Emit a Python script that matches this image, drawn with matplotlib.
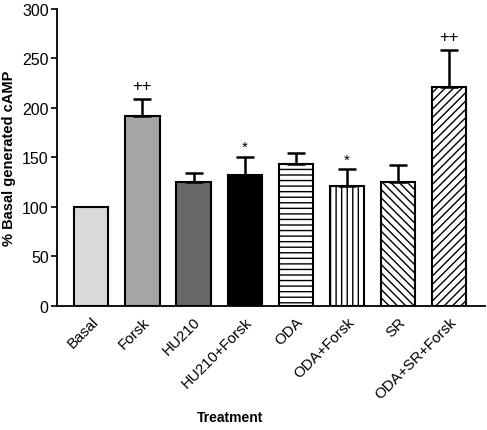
import matplotlib
import matplotlib.pyplot as plt
import numpy as np

plt.rcParams['font.family'] = ['Liberation Sans', 'DejaVu Sans']
plt.rcParams['hatch.linewidth'] = 1.0

# data
treatments = ['Basal', 'Forsk', 'HU210', 'HU210+Forsk', 'ODA', 'ODA+Forsk', 'SR', 'ODA+SR+Forsk']
means = [100, 192, 125, 132, 143, 121, 125, 221]
errors = [0, 17, 9, 18.5, 11.5, 17, 17.5, 37.5]
marks = ['', '++', '', '*', '', '*', '', '++']

colors = ['#d9d9d9', '#a5a5a5', '#686868', '#000000', 'white', 'white', 'white', 'white']
hatches = ['', '', '', '', '---', '|||', '\\\\\\\\', '////']

fig = plt.figure(figsize=(4.87, 4.31), dpi=100)
ax = fig.add_axes([0.117, 0.288, 0.879, 0.689])

x = np.arange(len(treatments))
for i in range(len(x)):
    ax.bar(x[i], means[i], width=0.67, color=colors[i], edgecolor='black',
           linewidth=1.5, hatch=hatches[i], zorder=2)
    if errors[i] > 0:
        ax.errorbar(x[i], means[i], yerr=[[0], [errors[i]]], fmt='none',
                    ecolor='black', elinewidth=1.8, capsize=6.5, capthick=1.8, zorder=3)
    if marks[i]:
        top = means[i] + errors[i]
        off = 14 if marks[i] == '++' else 10
        ax.text(x[i], top + off, marks[i], ha='center', va='center',
                fontsize=12 if marks[i] == '++' else 11, fontweight='light')

ax.set_xlim(-0.67, 7.7)
ax.set_ylim(0, 300)
ax.set_yticks([0, 50, 100, 150, 200, 250, 300])
ax.set_xticks(x)
ax.set_xticklabels(treatments, rotation=45, ha='right', rotation_mode='anchor', fontsize=10.8)
ax.tick_params(axis='y', labelsize=11.5, length=4, width=1.2, pad=2)
ax.tick_params(axis='x', length=0, pad=6)
ax.spines['top'].set_visible(False)
ax.spines['right'].set_visible(False)
ax.spines['left'].set_linewidth(1.3)
ax.spines['bottom'].set_linewidth(1.3)

ax.set_ylabel('% Basal generated cAMP', fontsize=10.5, fontweight='bold', labelpad=4)
fig.text(0.472, 0.03, 'Treatment', ha='center', va='center', fontsize=10, fontweight='bold')

plt.savefig('out.png', dpi=100)
